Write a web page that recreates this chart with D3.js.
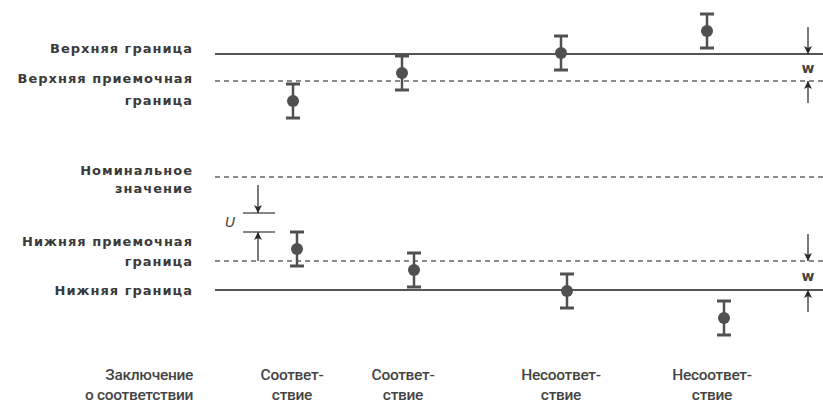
<!DOCTYPE html>
<html>
<head>
<meta charset="utf-8">
<script src="https://cdn.jsdelivr.net/npm/d3@7"></script>
<style>
  html, body { margin: 0; padding: 0; background: #fff; }
  svg { display: block; }
  .lvl { font-family: "DejaVu Sans", sans-serif; font-weight: 700; font-size: 13px; letter-spacing: 1px; fill: #3a3a3a; }
  .cat { font-family: Roboto, sans-serif; font-weight: 500; font-size: 15.5px; letter-spacing: -0.3px; fill: #444; }
  .sym { font-family: "DejaVu Sans", sans-serif; font-size: 14px; fill: #444; }
</style>
</head>
<body>
<svg id="chart" width="823" height="405"></svg>
<script>
// Limit levels (units relative to the nominal value)
const levelNames = ["upper", "upperAccept", "nominal", "lowerAccept", "lower"];
const levelValues = [12.3, 9.6, 0, -8.4, -11.3];
const levelDashed = [false, true, true, true, false];
const levelLabels = [
  ["Верхняя граница"],
  ["Верхняя приемочная", "граница"],
  ["Номинальное", "значение"],
  ["Нижняя приемочная", "граница"],
  ["Нижняя граница"]
];

// Measurement results: position along the axis, measured value, expanded uncertainty
const upperX = [8.3, 19.2, 35.1, 49.7];
const upperValues = [7.6, 10.4, 12.4, 14.6];
const lowerX = [8.7, 20.4, 35.7, 51.4];
const lowerValues = [-7.2, -9.3, -11.4, -14.1];
const uncertainty = [1.7, 1.7, 1.7, 1.7];

// Conformity verdicts under each pair of results
const verdictX = [8.2, 19.3, 35.1, 50.2];
const verdictLabels = [
  ["Соответ-", "ствие"],
  ["Соответ-", "ствие"],
  ["Несоответ-", "ствие"],
  ["Несоответ-", "ствие"]
];
const verdictTitle = ["Заключение", "о соответствии"];

// Uncertainty marker U and guard band w
const uMarkX = 4.8, uTicks = [-3.6, -5.5], uTickSpan = [3.3, 6.5], uArrowFrom = [-0.8, -8.4];
const wMarkX = 59.8;

const svg = d3.select("#chart");
const x = d3.scaleLinear().domain([0, 61.3]).range([210, 823]);
const y = d3.scaleLinear().domain([-20, 20]).range([377, -23]);

const ink = "#505050";

// arrowhead marker
svg.append("defs").append("marker")
  .attr("id", "head").attr("viewBox", "0 0 10 10")
  .attr("refX", 10).attr("refY", 5)
  .attr("markerWidth", 11).attr("markerHeight", 8)
  .attr("markerUnits", "userSpaceOnUse")
  .attr("orient", "auto")
  .append("path").attr("d", "M0,0 L10,5 L0,10 L2.5,5 Z").attr("fill", "#2a2a2a");

// limit lines
svg.append("g").selectAll("line").data(levelValues).join("line")
  .attr("x1", x(0.5)).attr("x2", 823)
  .attr("y1", d => y(d)).attr("y2", d => y(d))
  .attr("stroke", (d, i) => levelDashed[i] ? "#666" : "#555")
  .attr("stroke-width", (d, i) => levelDashed[i] ? 1.5 : 2)
  .attr("stroke-dasharray", (d, i) => levelDashed[i] ? "5,4" : null);

// level labels
const labelOffsets = [[-6], [-3, 19], [-7, 11], [-20, 0], [0]];
levelValues.forEach((v, i) => {
  levelLabels[i].forEach((t, j) => {
    svg.append("text").attr("class", "lvl")
      .attr("x", 193).attr("y", y(v) + labelOffsets[i][j])
      .attr("text-anchor", "end").attr("dy", "0.35em")
      .text(t);
  });
});

// results with uncertainty bars
function drawResults(xs, vs) {
  const g = svg.append("g");
  xs.forEach((xv, i) => {
    const cx = x(xv), v = vs[i], u = uncertainty[i];
    g.append("line").attr("x1", cx).attr("x2", cx)
      .attr("y1", y(v + u)).attr("y2", y(v - u))
      .attr("stroke", ink).attr("stroke-width", 2.5);
    [v + u, v - u].forEach(e => {
      g.append("line").attr("x1", cx - 7).attr("x2", cx + 7)
        .attr("y1", y(e)).attr("y2", y(e))
        .attr("stroke", ink).attr("stroke-width", 3);
    });
    g.append("circle").attr("cx", cx).attr("cy", y(v)).attr("r", 6)
      .attr("fill", ink);
  });
}
drawResults(upperX, upperValues);
drawResults(lowerX, lowerValues);

// arrow helper
function arrow(x0, yFrom, yTo) {
  svg.append("line").attr("x1", x0).attr("x2", x0)
    .attr("y1", yFrom).attr("y2", yTo)
    .attr("stroke", "#333").attr("stroke-width", 1.3)
    .attr("marker-end", "url(#head)");
}

// U marker
uTicks.forEach(t => {
  svg.append("line").attr("x1", x(uTickSpan[0])).attr("x2", x(uTickSpan[1]))
    .attr("y1", y(t)).attr("y2", y(t))
    .attr("stroke", "#444").attr("stroke-width", 1.3);
});
arrow(x(uMarkX), y(uArrowFrom[0]), y(uTicks[0]));
arrow(x(uMarkX), y(uArrowFrom[1]), y(uTicks[1]));
svg.append("text").attr("class", "sym").attr("font-style", "italic")
  .attr("x", x(uMarkX) - 33).attr("y", y((uTicks[0] + uTicks[1]) / 2))
  .attr("dy", "0.35em").text("U");

// guard band w markers
[[levelValues[0], levelValues[1]], [levelValues[3], levelValues[4]]].forEach(([a, b]) => {
  arrow(x(wMarkX), y(a) - 27, y(a));
  arrow(x(wMarkX), y(b) + 22, y(b));
  svg.append("text").attr("class", "sym").attr("font-weight", 700)
    .attr("x", x(wMarkX)).attr("y", y((a + b) / 2) + 1)
    .attr("text-anchor", "middle").attr("dy", "0.35em").text("w");
});

// verdict row
verdictTitle.forEach((t, j) => {
  svg.append("text").attr("class", "cat")
    .attr("x", 193).attr("y", 375 + j * 20)
    .attr("text-anchor", "end").attr("dy", "0.35em").text(t);
});
verdictX.forEach((xv, i) => {
  verdictLabels[i].forEach((t, j) => {
    svg.append("text").attr("class", "cat")
      .attr("x", x(xv)).attr("y", 375 + j * 20)
      .attr("text-anchor", "middle").attr("dy", "0.35em").text(t);
  });
});
</script>
</body>
</html>
